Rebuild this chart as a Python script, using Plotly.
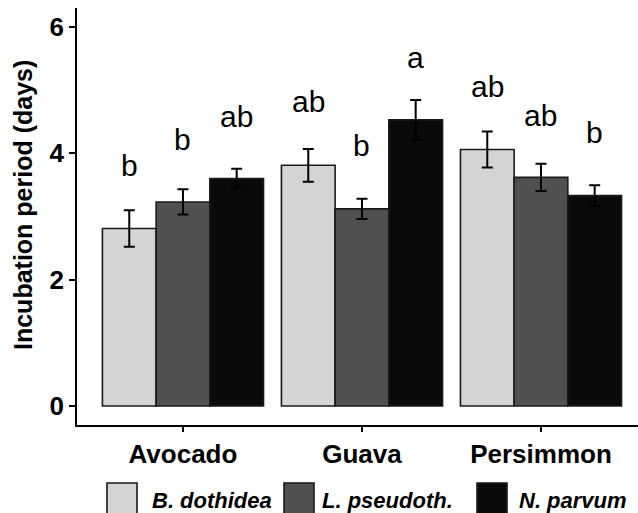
import plotly.graph_objects as go

# ---------------- data ----------------
hosts = ["Avocado", "Guava", "Persimmon"]
species = ["B. dothidea", "L. pseudoth.", "N. parvum"]
b_dothidea = [2.81, 3.81, 4.06]
l_pseudoth = [3.23, 3.12, 3.62]
n_parvum = [3.60, 4.53, 3.33]
b_dothidea_se = [0.29, 0.26, 0.285]
l_pseudoth_se = [0.20, 0.16, 0.215]
n_parvum_se = [0.155, 0.315, 0.165]
b_dothidea_letters = ["b", "ab", "ab"]
l_pseudoth_letters = ["b", "b", "ab"]
n_parvum_letters = ["ab", "a", "b"]
b_dothidea_letter_y = [3.63, 4.64, 4.87]
l_pseudoth_letter_y = [4.04, 3.94, 4.42]
n_parvum_letter_y = [4.40, 5.33, 4.15]
y_ticks = [0, 2, 4, 6]

means = [b_dothidea, l_pseudoth, n_parvum]
ses = [b_dothidea_se, l_pseudoth_se, n_parvum_se]
letters = [b_dothidea_letters, l_pseudoth_letters, n_parvum_letters]
letter_y = [b_dothidea_letter_y, l_pseudoth_letter_y, n_parvum_letter_y]

# ---------------- style ----------------
FONT = "Liberation Sans, Arial, Helvetica, sans-serif"
colors = ["#d4d4d4", "#505050", "#0a0a0a"]
W, H = 638, 513
L, R, T, B = 77, 0, 8, 88
pw, ph = W - L - R, H - T - B


def px2x(px):
    return (px - L) / pw


def px2y(py):
    return (H - B - py) / ph


fig = go.Figure()
for j, sp in enumerate(species):
    fig.add_trace(go.Bar(
        x=hosts, y=means[j], name=sp,
        marker=dict(color=colors[j], line=dict(color="#1a1a1a", width=1.6)),
        error_y=dict(type="data", array=ses[j], visible=True,
                     color="black", thickness=2, width=5.5),
        showlegend=False,
    ))

annotations = []
offsets = [-0.3, 0.0, 0.3]
for j in range(3):
    for i in range(3):
        annotations.append(dict(
            x=i + offsets[j], y=letter_y[j][i], xref="x", yref="y",
            text=letters[j][i], showarrow=False, yanchor="bottom",
            yshift=-7, font=dict(family=FONT, size=30, color="black"),
        ))

# y-axis title
annotations.append(dict(
    x=px2x(23), y=px2y(205), xref="paper", yref="paper",
    text="<b>Incubation period (days)</b>", textangle=-90, showarrow=False,
    xanchor="center", yanchor="middle",
    font=dict(family=FONT, size=25, color="black"),
))

# custom legend
shapes = []
sw_left = [107, 284, 477]
txt_left = [150, 320, 517]
for j, sp in enumerate(species):
    shapes.append(dict(
        type="rect", xref="paper", yref="paper",
        x0=px2x(sw_left[j]), x1=px2x(sw_left[j] + 30),
        y0=px2y(483), y1=px2y(515),
        fillcolor=colors[j], line=dict(color="#1a1a1a", width=1.6),
    ))
    annotations.append(dict(
        x=px2x(txt_left[j]), y=px2y(500), xref="paper", yref="paper",
        text="<b><i>" + sp + "</i></b>", showarrow=False,
        xanchor="left", yanchor="middle",
        font=dict(family=FONT, size=22, color="black"),
    ))

fig.update_layout(
    width=W, height=H,
    margin=dict(l=L, r=R, t=T, b=B, pad=0),
    paper_bgcolor="white", plot_bgcolor="white",
    barmode="group", bargap=0.1, bargroupgap=0,
    font=dict(family=FONT, color="black"),
    annotations=annotations, shapes=shapes,
    showlegend=False,
)
fig.update_xaxes(
    range=[-0.592, 2.542], showline=True, linecolor="black", linewidth=1.6,
    ticks="outside", ticklen=5, tickwidth=1.6, tickcolor="black",
    tickvals=hosts, ticktext=["<b>" + h + "</b>" for h in hosts],
    tickfont=dict(family=FONT, size=26, color="black"),
    showgrid=False, zeroline=False,
)
fig.update_yaxes(
    range=[-0.30, 6.30], showline=True, linecolor="black",
    tickvals=y_ticks, ticktext=["<b>%d</b>" % v for v in y_ticks],
    linewidth=1.6, ticks="outside", ticklen=6, tickwidth=1.6, tickcolor="black",
    tickfont=dict(family=FONT, size=26, color="black"),
    showgrid=False, zeroline=False,
)

fig.write_html("out.html")
